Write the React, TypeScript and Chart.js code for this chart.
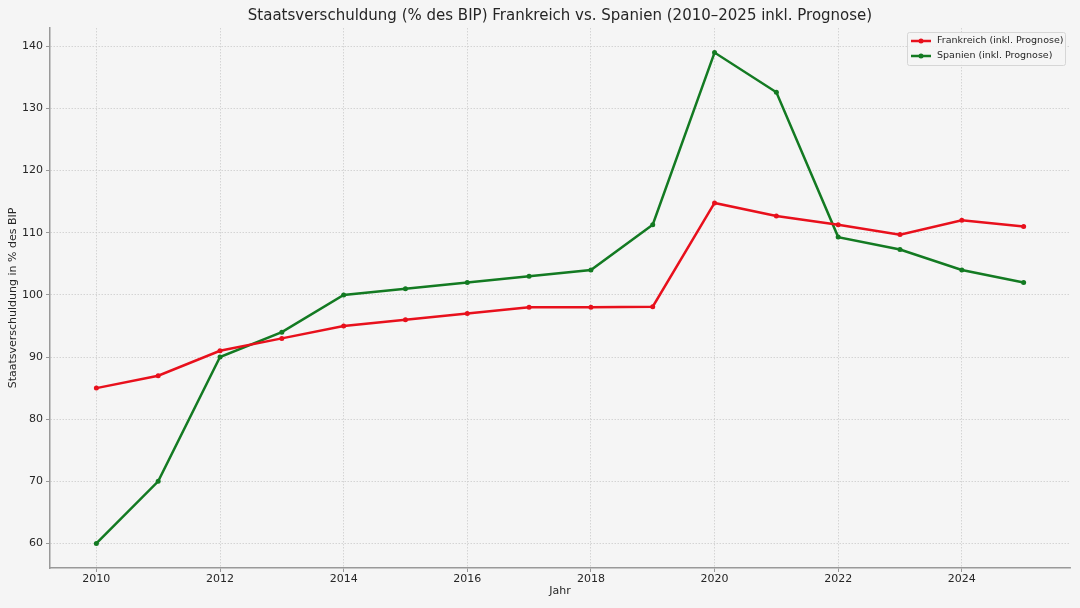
import React, { useEffect, useRef } from "react";
import { Chart, registerables } from "chart.js";

Chart.register(...registerables);

const years = [2010, 2011, 2012, 2013, 2014, 2015, 2016, 2017, 2018, 2019, 2020, 2021, 2022, 2023, 2024, 2025];
const frankreich = [85, 87, 91, 93, 95, 96, 97, 98, 98, 98.1, 114.8, 112.7, 111.3, 109.7, 112, 111];
const spanien = [60, 70, 90, 94, 100, 101, 102, 103, 104, 111.3, 139, 132.6, 109.3, 107.3, 104, 102];
const xTicks = [2010, 2012, 2014, 2016, 2018, 2020, 2022, 2024];
const yTicks = [60, 70, 80, 90, 100, 110, 120, 130, 140];

const TITLE = "Staatsverschuldung (% des BIP) Frankreich vs. Spanien (2010–2025 inkl. Prognose)";
const X_LABEL = "Jahr";
const Y_LABEL = "Staatsverschuldung in % des BIP";
const LABEL_FR = "Frankreich (inkl. Prognose)";
const LABEL_ES = "Spanien (inkl. Prognose)";

const RED = "#e8101c";
const GREEN = "#137a22";
const FONT = "'DejaVu Sans', sans-serif";
const TEXT = "#262626";
const BG = "#f5f5f5";
const SPINE = "#999999";

const bgPlugin = {
  id: "bg",
  beforeDraw(chart: any) {
    const { ctx, width, height } = chart;
    ctx.save();
    ctx.fillStyle = BG;
    ctx.fillRect(0, 0, width, height);
    ctx.restore();
  },
};

const titlePlugin = {
  id: "mplTitle",
  afterDraw(chart: any) {
    const { ctx, chartArea } = chart;
    ctx.save();
    ctx.fillStyle = TEXT;
    ctx.font = `15px ${FONT}`;
    ctx.textAlign = "center";
    ctx.textBaseline = "middle";
    ctx.fillText(TITLE, (chartArea.left + chartArea.right) / 2, 16);
    ctx.restore();
  },
};

const legendPlugin = {
  id: "mplLegend",
  afterDraw(chart: any) {
    const { ctx, chartArea } = chart;
    const w = 158;
    const h = 33;
    const x = chartArea.right - 5 - w;
    const y = chartArea.top + 4;
    ctx.save();
    ctx.fillStyle = "rgba(245,245,245,0.85)";
    ctx.strokeStyle = "#d6d6d6";
    ctx.lineWidth = 1;
    ctx.beginPath();
    if (ctx.roundRect) ctx.roundRect(x + 0.5, y + 0.5, w, h, 2);
    else ctx.rect(x + 0.5, y + 0.5, w, h);
    ctx.fill();
    ctx.stroke();
    ctx.font = `9.5px ${FONT}`;
    ctx.textBaseline = "middle";
    ctx.textAlign = "left";
    chart.data.datasets.forEach((ds: any, i: number) => {
      const cy = y + 9 + i * 15;
      ctx.strokeStyle = ds.borderColor;
      ctx.lineWidth = 2.5;
      ctx.beginPath();
      ctx.moveTo(x + 4, cy);
      ctx.lineTo(x + 24, cy);
      ctx.stroke();
      ctx.fillStyle = ds.borderColor;
      ctx.beginPath();
      ctx.arc(x + 14, cy, 2.5, 0, Math.PI * 2);
      ctx.fill();
      ctx.fillStyle = TEXT;
      ctx.fillText(ds.label, x + 30, cy);
    });
    ctx.restore();
  },
};

export default function App() {
  const ref = useRef<HTMLCanvasElement>(null);
  useEffect(() => {
    document.body.style.margin = "0";
    const chart = new Chart(ref.current as HTMLCanvasElement, {
      type: "line",
      data: {
        datasets: [
          {
            label: LABEL_FR,
            data: years.map((y, i) => ({ x: y, y: frankreich[i] })),
            borderColor: RED,
            backgroundColor: RED,
            borderWidth: 2.5,
            pointRadius: 2.5,
            pointBorderWidth: 0,
            pointBackgroundColor: RED,
            tension: 0,
          },
          {
            label: LABEL_ES,
            data: years.map((y, i) => ({ x: y, y: spanien[i] })),
            borderColor: GREEN,
            backgroundColor: GREEN,
            borderWidth: 2.5,
            pointRadius: 2.5,
            pointBorderWidth: 0,
            pointBackgroundColor: GREEN,
            tension: 0,
          },
        ],
      },
      options: {
        animation: false,
        responsive: false,
        maintainAspectRatio: false,
        layout: { padding: { top: 28, right: 10, left: 0, bottom: 0 } },
        plugins: {
          legend: { display: false },
          title: { display: false },
          tooltip: { enabled: false },
        },
        scales: {
          x: {
            type: "linear",
            min: 2009.25,
            max: 2025.75,
            afterBuildTicks: (s: any) => {
              s.ticks = xTicks.map((v) => ({ value: v }));
            },
            afterFit: (s: any) => {
              s.height = 40;
            },
            ticks: {
              color: TEXT,
              font: { family: FONT, size: 11 },
              padding: 1,
              maxRotation: 0,
              autoSkip: false,
              callback: (v: any) => String(v),
            },
            grid: {
              color: "#cccccc",
              lineWidth: 0.8,
              tickLength: 4,
              tickColor: SPINE,
              tickWidth: 1,
            },
            border: { display: true, color: SPINE, width: 1.5, dash: [1.5, 1.5] },
            title: {
              display: true,
              text: X_LABEL,
              color: TEXT,
              font: { family: FONT, size: 11 },
              padding: { top: 0, bottom: 10 },
            },
          },
          y: {
            type: "linear",
            min: 56.05,
            max: 142.95,
            afterBuildTicks: (s: any) => {
              s.ticks = yTicks.map((v) => ({ value: v }));
            },
            afterFit: (s: any) => {
              s.width = 50;
            },
            ticks: {
              color: TEXT,
              font: { family: FONT, size: 11 },
              padding: 3,
              autoSkip: false,
              callback: (v: any) => String(v),
            },
            grid: {
              color: "#cccccc",
              lineWidth: 0.8,
              tickLength: 4,
              tickColor: SPINE,
              tickWidth: 1,
            },
            border: { display: true, color: SPINE, width: 1.5, dash: [1.5, 1.5] },
            title: {
              display: true,
              text: Y_LABEL,
              color: TEXT,
              font: { family: FONT, size: 11 },
              padding: { top: 7, bottom: 0 },
            },
          },
        },
      },
      plugins: [bgPlugin, titlePlugin, legendPlugin],
    } as any);
    return () => chart.destroy();
  }, []);
  return (
    <div style={{ width: 1080, height: 608, background: BG }}>
      <canvas ref={ref} width={1080} height={608} style={{ width: 1080, height: 608, display: "block" }} />
    </div>
  );
}
